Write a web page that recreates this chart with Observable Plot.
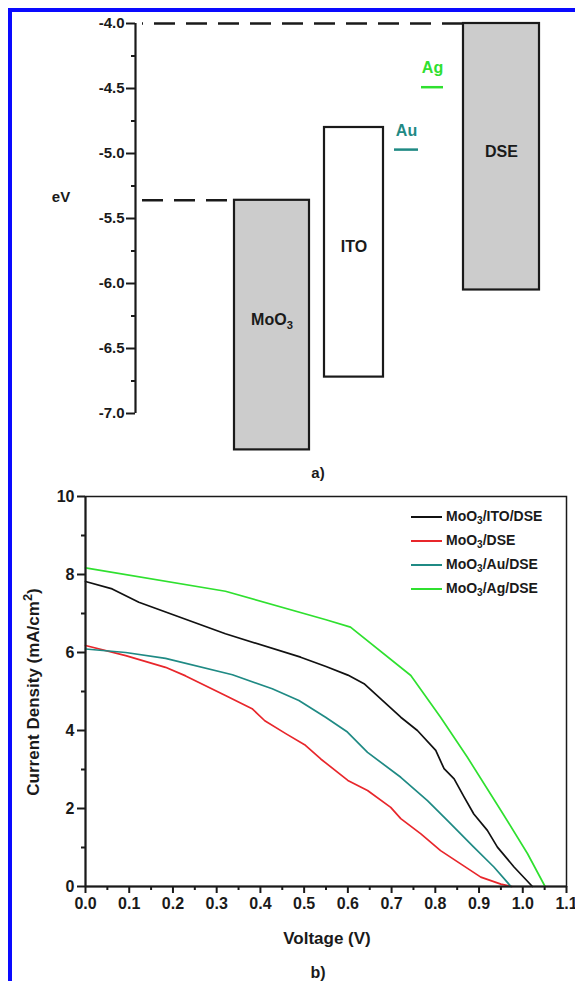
<!DOCTYPE html>
<html><head><meta charset="utf-8">
<script src="https://cdn.jsdelivr.net/npm/d3@7"></script>
<script src="https://cdn.jsdelivr.net/npm/@observablehq/plot@0.6"></script>
<style>
html,body{margin:0;padding:0;background:#fff;}
#wrap{position:relative;width:575px;height:981px;overflow:hidden;font-family:"Liberation Sans",Arial,Helvetica,sans-serif;font-weight:bold;color:#1a1a1a;}
.border{position:absolute;background:#0a0aff;z-index:5;}
.abs{position:absolute;white-space:nowrap;line-height:1;transform:translate(-50%,-50%);}
#chartA{position:absolute;left:0;top:0;}
#chartB{position:absolute;left:0;top:476px;}
#legend{position:absolute;left:411px;top:505px;font-size:14px;}
#legend .row{position:relative;height:24px;}
#legend .sw{position:absolute;left:0;top:11px;width:31px;height:2px;}
#legend .lb{position:absolute;left:35px;top:4px;line-height:1;}
sub{font-size:0.72em;vertical-align:-0.3em;line-height:0;}
sup{font-size:0.75em;vertical-align:0.55em;line-height:0;}
</style>
</head><body>
<div id="wrap">
  <div class="border" style="left:8px;top:8px;width:4px;height:973px;"></div>
  <div class="border" style="left:8px;top:8px;width:567px;height:4px;"></div>
  <div id="chartA"></div>
  <div id="chartB"></div>
  <div class="abs" style="left:61px;top:196px;font-size:15px;">eV</div>
  <div class="abs" style="left:318px;top:472px;font-size:15px;">a)</div>
  <div class="abs" style="left:33px;top:692px;font-size:17px;transform:translate(-50%,-50%) rotate(-90deg);">Current Density (mA/cm<sup>2</sup>)</div>
  <div class="abs" style="left:327px;top:938px;font-size:17px;">Voltage (V)</div>
  <div class="abs" style="left:318px;top:973px;font-size:16px;">b)</div>
  <div id="legend"></div>
</div>
<script>
// ---------- (a) energy level diagram data ----------
const materials = ["MoO3", "ITO", "DSE"];
const bandTop = [-5.36, -4.8, -4.0];
const bandBottom = [-7.28, -6.72, -6.05];
const metals = ["Au", "Ag"];
const workFunction = [-4.97, -4.49];
const energyTicks = [-4.0, -4.5, -5.0, -5.5, -6.0, -6.5, -7.0];
const energyMinorTicks = [-4.25, -4.75, -5.25, -5.75, -6.25, -6.75];

// ---------- (b) J-V curves data ----------
const seriesNames = ["MoO3/ITO/DSE", "MoO3/DSE", "MoO3/Au/DSE", "MoO3/Ag/DSE"];
const vITO = [0, 0.061, 0.122, 0.32, 0.492, 0.55, 0.6, 0.637, 0.679, 0.721, 0.759, 0.801, 0.82, 0.843, 0.866, 0.888, 0.919, 0.942, 0.98, 1.022];
const jITO = [7.82, 7.63, 7.29, 6.48, 5.88, 5.64, 5.42, 5.20, 4.77, 4.34, 4.0, 3.49, 3.02, 2.76, 2.29, 1.86, 1.44, 1.01, 0.5, 0];
const vBare = [0, 0.092, 0.183, 0.229, 0.32, 0.381, 0.41, 0.458, 0.503, 0.538, 0.6, 0.645, 0.698, 0.721, 0.767, 0.812, 0.858, 0.904, 0.95, 0.975];
const jBare = [6.18, 5.92, 5.62, 5.40, 4.90, 4.56, 4.25, 3.92, 3.62, 3.27, 2.72, 2.46, 2.03, 1.74, 1.35, 0.92, 0.58, 0.24, 0.06, 0];
const vAu = [0, 0.092, 0.183, 0.336, 0.427, 0.488, 0.549, 0.599, 0.645, 0.721, 0.782, 0.828, 0.888, 0.934, 0.973];
const jAu = [6.09, 6.0, 5.85, 5.43, 5.07, 4.77, 4.34, 3.96, 3.44, 2.80, 2.2, 1.69, 1.01, 0.5, 0];
const vAg = [0, 0.32, 0.55, 0.606, 0.744, 0.812, 0.873, 0.95, 1.011, 1.051];
const jAg = [8.17, 7.57, 6.84, 6.65, 5.41, 4.34, 3.32, 1.95, 0.84, 0];
const voltageTicks = [0, 0.1, 0.2, 0.3, 0.4, 0.5, 0.6, 0.7, 0.8, 0.9, 1.0, 1.1];
const voltageMinorTicks = [0.05, 0.15, 0.25, 0.35, 0.45, 0.55, 0.65, 0.75, 0.85, 0.95, 1.05];
const currentTicks = [0, 2, 4, 6, 8, 10];
const currentMinorTicks = [1, 3, 5, 7, 9];

// ---------- layout / style (kept apart from data) ----------
const slotX = {MoO3: [99, 174], ITO: [189, 248], DSE: [328, 404], Au: [259, 283], Ag: [286, 308]};
const bandFill = {MoO3: "#cccccc", ITO: "#ffffff", DSE: "#cccccc"};
const metalColor = {Au: "#1f8a84", Ag: "#2fe02f"};
const seriesColor = ["#111111", "#e8262b", "#1f8a84", "#2fe02f"];
const dashStart = 7;

const bands = materials.map((m, i) => ({m, top: bandTop[i], bottom: bandBottom[i]}));
const metalRows = metals.map((m, i) => ({m, wf: workFunction[i]}));
const refLevels = [
  {y: bandTop[materials.indexOf("DSE")], to: slotX.DSE[0], off: 20},
  {y: bandTop[materials.indexOf("MoO3")], to: slotX.MoO3[0], off: 0}
];

const fontStyle = {fontFamily: '"Liberation Sans", Arial, Helvetica, sans-serif', fontWeight: "bold", color: "#1a1a1a", background: "transparent"};

const plotA = Plot.plot({
  width: 575, height: 478,
  marginLeft: 135, marginRight: 0, marginTop: 23, marginBottom: 0,
  style: {...fontStyle, fontSize: "15px"},
  x: {domain: [0, 440], axis: null},
  y: {domain: [-7.5, -4], axis: null},
  marks: [
    ...refLevels.map(r => Plot.ruleY([r.y], {x1: dashStart, x2: r.to, stroke: "#1a1a1a", strokeWidth: 2.5, strokeDasharray: "21,11", strokeDashoffset: r.off})),
    Plot.rect(bands, {x1: d => slotX[d.m][0], x2: d => slotX[d.m][1], y1: "top", y2: "bottom", fill: d => bandFill[d.m], stroke: "#1a1a1a", strokeWidth: 2.2}),
    Plot.text(bands, {x: d => (slotX[d.m][0] + slotX[d.m][1]) / 2, y: d => (d.top + d.bottom) / 2 + 0.04, text: "m", fontSize: 16, fill: "#1a1a1a"}),
    Plot.ruleY(metalRows, {y: "wf", x1: d => slotX[d.m][0], x2: d => slotX[d.m][1], stroke: d => metalColor[d.m], strokeWidth: 2.5}),
    Plot.text(metalRows, {y: "wf", x: d => (slotX[d.m][0] + slotX[d.m][1]) / 2, text: "m", dy: -19, fill: d => metalColor[d.m], fontSize: 16}),
    Plot.ruleX([0], {y1: energyTicks[0], y2: energyTicks[energyTicks.length - 1], stroke: "#1a1a1a", strokeWidth: 2.2}),
    Plot.axisY(energyTicks, {anchor: "left", label: null, tickSize: 9, tickPadding: 2, strokeWidth: 2, tickFormat: d => d.toFixed(1), fontSize: 15}),
    Plot.axisY(energyMinorTicks, {anchor: "left", label: null, tickSize: 4, strokeWidth: 2, tickFormat: () => ""})
  ]
});
document.getElementById("chartA").appendChild(plotA);

const rows = [];
[[vITO, jITO], [vBare, jBare], [vAu, jAu], [vAg, jAg]].forEach(([vs, js], k) => {
  vs.forEach((v, i) => rows.push({series: seriesNames[k], v, j: js[i]}));
});

const plotB = Plot.plot({
  width: 575, height: 505,
  marginLeft: 85, marginRight: 9, marginTop: 20, marginBottom: 95,
  style: {...fontStyle, fontSize: "16px"},
  x: {domain: [0, 1.1], axis: null},
  y: {domain: [0, 10], axis: null},
  color: {domain: seriesNames, range: seriesColor},
  marks: [
    Plot.frame({stroke: "#1a1a1a", strokeWidth: 1.5}),
    Plot.line(rows, {x: "v", y: "j", z: "series", stroke: "series", strokeWidth: 1.7, curve: "linear"}),
    Plot.ruleX([0], {stroke: "#1a1a1a", strokeWidth: 2}),
    Plot.ruleY([0], {stroke: "#1a1a1a", strokeWidth: 2}),
    Plot.axisX(voltageTicks, {anchor: "bottom", label: null, tickSize: 7, tickPadding: 4, strokeWidth: 2, tickFormat: d => d.toFixed(1), fontSize: 16}),
    Plot.axisX(voltageMinorTicks, {anchor: "bottom", label: null, tickSize: 4, strokeWidth: 2, tickFormat: () => ""}),
    Plot.axisY(currentTicks, {anchor: "left", label: null, tickSize: 8, tickPadding: 3, strokeWidth: 2, tickFormat: d => String(d), fontSize: 16}),
    Plot.axisY(currentMinorTicks, {anchor: "left", label: null, tickSize: 4, strokeWidth: 2, tickFormat: () => ""})
  ]
});
document.getElementById("chartB").appendChild(plotB);

// subscripts in the SVG text
document.querySelectorAll("#chartA text").forEach(t => {
  if (t.textContent === "MoO3") {
    t.textContent = "MoO";
    const s = document.createElementNS("http://www.w3.org/2000/svg", "tspan");
    s.setAttribute("font-size", "0.7em");
    s.setAttribute("dy", "0.35em");
    s.textContent = "3";
    t.appendChild(s);
  }
});

// legend
const legend = document.getElementById("legend");
seriesNames.forEach((name, i) => {
  const row = document.createElement("div");
  row.className = "row";
  const sw = document.createElement("div");
  sw.className = "sw";
  sw.style.background = seriesColor[i];
  const lb = document.createElement("div");
  lb.className = "lb";
  lb.innerHTML = name.replace("MoO3", "MoO<sub>3</sub>");
  row.appendChild(sw);
  row.appendChild(lb);
  legend.appendChild(row);
});
</script>
</body></html>
